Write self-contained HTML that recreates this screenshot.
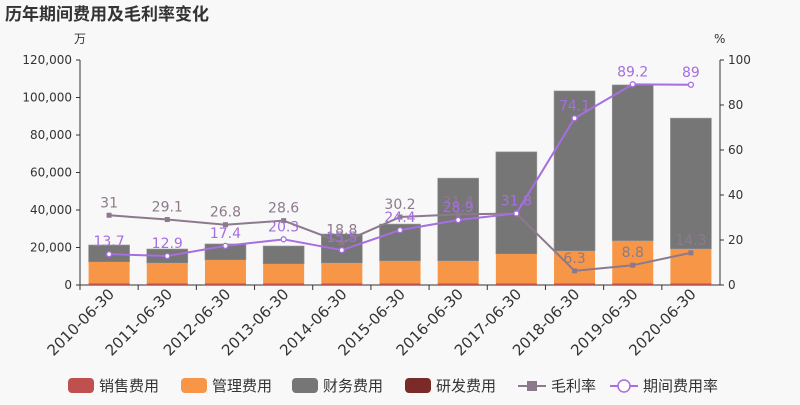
<!DOCTYPE html>
<html><head><meta charset="utf-8"><style>
body{margin:0;background:#f8f8f8;width:800px;height:400px;overflow:hidden}
svg{font-family:"DejaVu Sans","Liberation Sans","Noto Sans CJK SC",sans-serif}
</style></head><body>
<svg id="s" width="800" height="400" xmlns="http://www.w3.org/2000/svg"></svg>
<script>
const s=document.getElementById('s');let h='';
h+='<rect width="800" height="400" fill="#f8f8f8"/>';
h+='<text x="5" y="20" font-size="17" font-weight="bold" fill="#333" font-family="Noto Sans CJK SC,sans-serif">历年期间费用及毛利率变化</text>';
h+='<text x="74" y="43" font-size="12" fill="#333" font-family="Noto Sans CJK SC,sans-serif">万</text>';
h+='<text x="714" y="43" font-size="12" fill="#333">%</text>';
const x0=80,x1=720,yb=285,yt=60;
for(let i=0;i<=6;i++){const y=yb-i*(yb-yt)/6;
h+=`<text x="72" y="${y+4}" font-size="12" fill="#333" text-anchor="end">${(i*20000).toLocaleString('en-US')}</text>`;
h+=`<line x1="${x0-4}" x2="${x0}" y1="${y}" y2="${y}" stroke="#333"/>`;}
for(let i=0;i<=5;i++){const y=yb-i*45;
h+=`<text x="728" y="${y+4}" font-size="12" fill="#333">${i*20}</text>`;
h+=`<line x1="${x1}" x2="${x1+4}" y1="${y}" y2="${y}" stroke="#333"/>`;}
h+=`<line x1="${x0}" x2="${x0}" y1="${yt}" y2="${yb}" stroke="#333"/><line x1="${x1}" x2="${x1}" y1="${yt}" y2="${yb}" stroke="#333"/><line x1="${x0}" x2="${x1}" y1="${yb}" y2="${yb}" stroke="#333"/>`;
const yrs=['2010','2011','2012','2013','2014','2015','2016','2017','2018','2019','2020'];
const tot=[21333,19200,21900,20800,27200,32500,57000,71000,103500,106700,89000];
const mg=[12267,11700,13300,11200,11700,12800,12800,16500,18100,23500,19200];
const gm=[31,29.1,26.8,28.6,18.8,30.2,31.4,31.8,6.3,8.8,14.3];
const er=[13.7,12.9,17.4,20.3,15.5,24.4,28.9,31.8,74.1,89.2,89];
const w=640/11,Y=v=>yb-v*225/120000,P=v=>yb-v*2.25;
const cx=i=>x0+w*(i+0.5);
for(let i=0;i<11;i++){const c=cx(i);
h+=`<rect x="${c-20.5}" y="${Y(tot[i])}" width="41" height="${Y(mg[i])-Y(tot[i])}" fill="#767676" stroke="#999" stroke-width="0.6"/>`;
h+=`<rect x="${c-20.5}" y="${Y(mg[i])}" width="41" height="${yb-Y(mg[i])}" fill="#f79646"/>`;
h+=`<rect x="${c-20.5}" y="${yb-1.5}" width="41" height="1.5" fill="#c0504d"/>`;
h+=`<line x1="${x0+w*i}" x2="${x0+w*i}" y1="${yb}" y2="${yb+5}" stroke="#333"/>`;
h+=`<text transform="translate(${c+6},${yb+10}) rotate(-45)" font-size="15" fill="#333" text-anchor="end">${yrs[i]}-06-30</text>`;}
h+=`<polyline fill="none" stroke="#8c7a8c" stroke-width="2" points="${gm.map((v,i)=>cx(i)+','+P(v)).join(' ')}"/>`;
h+=`<polyline fill="none" stroke="#a66ee0" stroke-width="2" points="${er.map((v,i)=>cx(i)+','+P(v)).join(' ')}"/>`;
for(let i=0;i<11;i++){const c=cx(i);
h+=`<rect x="${c-2.5}" y="${P(gm[i])-2.5}" width="5" height="5" fill="#8c7a8c"/>`;
h+=`<circle cx="${c}" cy="${P(er[i])}" r="2.5" fill="#fff" stroke="#a66ee0" stroke-width="1.3"/>`;
h+=`<text x="${c}" y="${P(gm[i])-8}" font-size="14" fill="#8c7a8c" text-anchor="middle">${gm[i]}</text>`;
h+=`<text x="${c}" y="${P(er[i])-8}" font-size="14" fill="#a66ee0" text-anchor="middle">${er[i]}</text>`;}
const L=[['销售费用','#c0504d',68],['管理费用','#f79646',181],['财务费用','#767676',292],['研发费用','#7b2a2a',405]];
L.forEach(([t,c,x])=>{h+=`<rect x="${x}" y="378" width="26" height="15" rx="4" fill="${c}"/><text x="${x+31}" y="391" font-size="15" fill="#333" font-family="Noto Sans CJK SC,sans-serif">${t}</text>`;});
h+=`<line x1="518" x2="546" y1="386" y2="386" stroke="#8c7a8c" stroke-width="2"/><rect x="527" y="381" width="10" height="10" fill="#8c7a8c"/><text x="551" y="391" font-size="15" fill="#333" font-family="Noto Sans CJK SC,sans-serif">毛利率</text>`;
h+=`<line x1="610" x2="638" y1="386" y2="386" stroke="#a66ee0" stroke-width="2"/><circle cx="624" cy="386" r="6" fill="#fff" stroke="#a66ee0" stroke-width="1.5"/><text x="643" y="391" font-size="15" fill="#333" font-family="Noto Sans CJK SC,sans-serif">期间费用率</text>`;
s.innerHTML=h;
</script>
</body></html>
